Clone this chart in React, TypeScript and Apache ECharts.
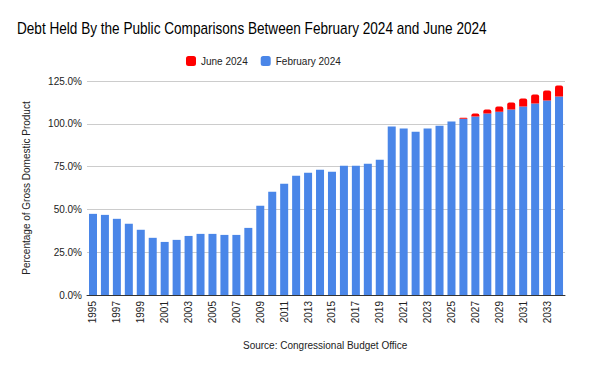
import React, { useEffect, useRef } from "react";
import * as echarts from "echarts";

const years: string[] = [];
for (let y = 1995; y <= 2034; y++) years.push(String(y));

const february2024: number[] = [
  47.4, 46.8, 44.5, 41.6, 38.1, 33.4, 31.0, 32.2, 34.5, 35.7,
  35.7, 35.1, 35.1, 39.2, 52.1, 60.3, 65.0, 69.7, 71.4, 73.2,
  72.0, 75.5, 75.5, 76.7, 79.0, 98.4, 97.2, 95.4, 97.2, 98.9,
  101.3, 103.0, 104.2, 106.0, 107.1, 108.3, 110.1, 111.8, 113.6, 115.9,
];

// June 2024 projection totals (only years where it differs)
const june2024: (number | null)[] = [
  null, null, null, null, null, null, null, null, null, null,
  null, null, null, null, null, null, null, null, null, null,
  null, null, null, null, null, null, null, null, null, null,
  null, 103.6, 106.0, 108.3, 110.1, 112.4, 114.8, 117.1, 119.4, 122.4,
];

const juneExtra = june2024.map((v, i) =>
  v == null ? null : Math.round((v - february2024[i]) * 10) / 10
);

const FONT = "Liberation Sans, Arial, sans-serif";

export default function App() {
  const ref = useRef<HTMLDivElement>(null);
  useEffect(() => {
    if (!ref.current) return;
    const chart = echarts.init(ref.current, undefined, { renderer: "svg" });
    chart.setOption({
      animation: false,
      backgroundColor: "#ffffff",
      textStyle: { fontFamily: FONT },
      legend: {
        data: ["June 2024", "February 2024"],
        top: 51,
        left: 181,
        itemWidth: 10,
        itemHeight: 10,
        itemGap: 13,
        icon: "roundRect",
        textStyle: { fontFamily: FONT, fontSize: 10, color: "#222" },
      },
      grid: { left: 87, right: 35, top: 81, bottom: 76 },
      xAxis: {
        type: "category",
        data: years,
        axisLine: { lineStyle: { color: "#333" } },
        axisTick: { show: false },
        axisLabel: {
          rotate: 90,
          interval: 1,
          fontSize: 10,
          color: "#222",
          margin: 6,
          fontFamily: FONT,
        },
      },
      yAxis: {
        type: "value",
        min: 0,
        max: 125,
        interval: 25,
        name: "Percentage of Gross Domestic Product",
        nameLocation: "middle",
        nameGap: 56,
        nameTextStyle: { fontSize: 10, color: "#222", fontFamily: FONT },
        axisLine: { show: false },
        axisTick: { show: false },
        splitLine: { lineStyle: { color: "#cccccc" } },
        axisLabel: {
          formatter: (v: number) => v.toFixed(1) + "%",
          fontSize: 10,
          color: "#222",
          margin: 5,
          fontFamily: FONT,
        },
      },
      series: [
        {
          name: "February 2024",
          type: "bar",
          stack: "total",
          data: february2024,
          barCategoryGap: "33%",
          itemStyle: { color: "#4a86e8" },
        },
        {
          name: "June 2024",
          type: "bar",
          stack: "total",
          data: juneExtra,
          itemStyle: { color: "#ff0000", borderRadius: [2, 2, 0, 0] },
        },
      ],
      graphic: [
        {
          type: "text",
          x: 17,
          y: 29,
          scaleX: 0.85,
          style: {
            text: "Debt Held By the Public Comparisons Between February 2024 and June 2024",
            fontSize: 16,
            fill: "#000",
            fontFamily: FONT,
            verticalAlign: "middle",
          },
        },
        {
          type: "text",
          left: 243,
          top: 340,
          style: {
            text: "Source: Congressional Budget Office",
            fontSize: 10,
            fill: "#222",
            fontFamily: FONT,
          },
        },
      ],
    });
    return () => chart.dispose();
  }, []);
  return <div ref={ref} style={{ width: 600, height: 371, margin: -8 }} />;
}
